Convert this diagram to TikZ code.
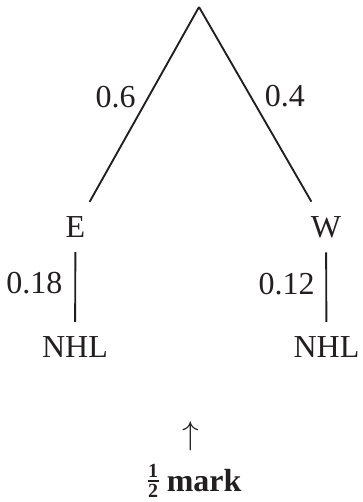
\documentclass[tikz,border=0pt]{standalone}
\usepackage{fontspec}
\setmainfont{Liberation Serif}
\usetikzlibrary{positioning}
\definecolor{ink}{RGB}{35,31,32}
\newcommand{\halfsize}{\fontsize{15}{15}\selectfont\bfseries}
\newcommand{\halfmark}{\raisebox{-4.5pt}{\halfsize\vbox{\hbox to 8.5pt{\hfil 1\hfil}\kern2.5pt\hrule height 1pt\kern1.5pt\hbox to 8.5pt{\hfil 2\hfil}}}}

\begin{document}
\begin{tikzpicture}[x=0.75pt, y=-0.75pt,
  every node/.style={text=ink, font=\fontsize{24}{29}\selectfont},
  branch/.style={draw=ink, line width=1.4pt},
  outcome/.style={inner sep=0pt, outer sep=11pt},
  prob/.style={inner sep=0pt}]
\useasboundingbox (0,0) rectangle (362,502);
\coordinate (root) at (199,7);
\node[outcome] (E) at (75.5,227) {E};
\node[outcome] (W) at (326,227) {W};
\node[outcome] (nhlE) at (75,347) {NHL};
\node[outcome] (nhlW) at (326.5,347) {NHL};

\draw[branch] (root) -- node[prob, pos=0.46, left=9pt] (pE) {0.6} (E);
\draw[branch] (root) -- node[prob, pos=0.46, right=10pt] (pW) {0.4} (W);
\draw[branch] (E) -- node[prob, pos=0.45, left=9pt] (pnhlE) {0.18} (nhlE);
\draw[branch] (W) -- node[prob, pos=0.45, left=8pt] (pnhlW) {0.12} (nhlW);

\node (up) at (190.5,436.5) {$\uparrow$};
\node[anchor=base] (note) at (194.5,491) {\bfseries\halfmark\ mark};
\end{tikzpicture}
\end{document}
